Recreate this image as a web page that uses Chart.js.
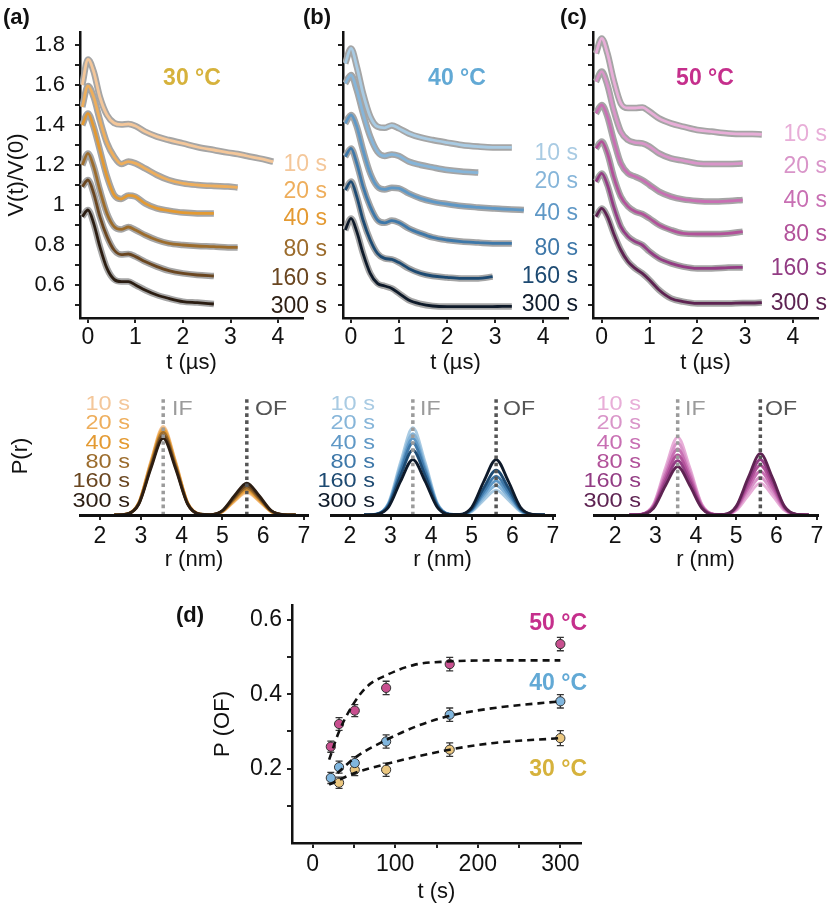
<!DOCTYPE html>
<html>
<head>
<meta charset="utf-8">
<script src="https://cdn.jsdelivr.net/npm/chart.js@4.4.1/dist/chart.umd.min.js"></script>
<style>
  body { margin: 0; background: #fff; }
  #fig { position: relative; width: 832px; height: 904px; overflow: hidden; font-family: "Liberation Sans", Arial, sans-serif; }
  #fig canvas { position: absolute; }
  .txt { position: absolute; white-space: nowrap; line-height: 1; }
</style>
</head>
<body>
<div id="fig"></div>
<script>
// ---- top row: V(t)/V(0) traces, values on a shared time grid (µs) ----
const tGrid = [-0.12, 0, 0.12, 0.25, 0.4, 0.55, 0.7, 0.85, 1.0, 1.2, 1.45, 1.7, 2.0, 2.3, 2.65, 2.95, 3.15, 3.35, 3.6, 3.9];
const tTicks = [0, 1, 2, 3, 4];
const vTicks = [0.5, 0.6, 0.7, 0.8, 0.9, 1, 1.1, 1.2, 1.3, 1.4, 1.5, 1.6, 1.7, 1.8];
const vLabels = [0.6, 0.8, 1, 1.2, 1.4, 1.6, 1.8];
const timeLabels = ['10 s', '20 s', '40 s', '80 s', '160 s', '300 s'];

// 30 °C
const a10 = [1.60, 1.728, 1.667, 1.54, 1.45, 1.41, 1.402, 1.405, 1.395, 1.367, 1.342, 1.325, 1.308, 1.29, 1.275, 1.262, 1.255, 1.245, 1.233, 1.217];
const a20 = [1.49, 1.595, 1.54, 1.425, 1.31, 1.242, 1.205, 1.217, 1.208, 1.183, 1.15, 1.125, 1.108, 1.10, 1.095, 1.092, 1.088];
const a40 = [1.40, 1.458, 1.39, 1.275, 1.142, 1.05, 1.03, 1.048, 1.042, 1.008, 0.983, 0.972, 0.962, 0.958, 0.958];
const a80 = [1.20, 1.258, 1.192, 1.075, 0.958, 0.892, 0.878, 0.89, 0.875, 0.85, 0.825, 0.808, 0.80, 0.795, 0.792, 0.788, 0.788];
const a160 = [1.092, 1.125, 1.058, 0.942, 0.842, 0.775, 0.752, 0.755, 0.742, 0.717, 0.692, 0.672, 0.658, 0.65, 0.645];
const a300 = [0.942, 0.975, 0.908, 0.792, 0.683, 0.628, 0.617, 0.617, 0.60, 0.575, 0.55, 0.533, 0.517, 0.512, 0.505];
// 40 °C
const b10 = [1.708, 1.783, 1.692, 1.558, 1.442, 1.392, 1.386, 1.398, 1.383, 1.358, 1.338, 1.325, 1.312, 1.30, 1.292, 1.288, 1.288, 1.288];
const b20 = [1.608, 1.65, 1.575, 1.458, 1.342, 1.267, 1.245, 1.253, 1.245, 1.217, 1.20, 1.188, 1.175, 1.167, 1.162];
const b40 = [1.408, 1.45, 1.392, 1.275, 1.158, 1.092, 1.078, 1.086, 1.083, 1.058, 1.033, 1.017, 1.005, 0.995, 0.988, 0.983, 0.98, 0.978, 0.975];
const b80 = [1.242, 1.283, 1.208, 1.092, 0.992, 0.925, 0.911, 0.922, 0.912, 0.883, 0.858, 0.838, 0.825, 0.817, 0.812, 0.808, 0.808, 0.808];
const b160 = [1.075, 1.117, 1.042, 0.925, 0.825, 0.758, 0.733, 0.728, 0.712, 0.683, 0.658, 0.645, 0.638, 0.633, 0.633, 0.642];
const b300 = [0.875, 0.933, 0.867, 0.758, 0.658, 0.608, 0.595, 0.583, 0.558, 0.525, 0.505, 0.495, 0.492, 0.492, 0.492, 0.492, 0.493, 0.493];
// 50 °C
const c10 = [1.758, 1.833, 1.758, 1.625, 1.508, 1.485, 1.485, 1.488, 1.467, 1.433, 1.408, 1.392, 1.375, 1.367, 1.358, 1.355, 1.355, 1.353];
const c20 = [1.617, 1.667, 1.60, 1.475, 1.367, 1.325, 1.312, 1.308, 1.292, 1.258, 1.233, 1.222, 1.208, 1.205, 1.205, 1.208];
const c40 = [1.458, 1.50, 1.442, 1.325, 1.208, 1.158, 1.142, 1.125, 1.10, 1.067, 1.042, 1.028, 1.02, 1.017, 1.02, 1.025];
const c80 = [1.283, 1.317, 1.258, 1.142, 1.042, 0.992, 0.967, 0.955, 0.933, 0.90, 0.875, 0.858, 0.855, 0.855, 0.858, 0.867];
const c160 = [1.117, 1.158, 1.10, 0.992, 0.892, 0.842, 0.817, 0.80, 0.767, 0.733, 0.708, 0.692, 0.683, 0.683, 0.687, 0.688];
const c300 = [0.942, 0.983, 0.942, 0.858, 0.775, 0.717, 0.683, 0.658, 0.625, 0.575, 0.533, 0.517, 0.508, 0.508, 0.508, 0.51, 0.51, 0.512];

// ---- middle row: P(r) distance distributions on an r grid (nm) ----
const rGrid = [2.35, 2.65, 2.95, 3.25, 3.55, 3.85, 4.15, 4.45, 4.7, 5.0, 5.3, 5.6, 5.9, 6.2, 6.5, 6.8];
const rTicks = [2, 3, 4, 5, 6, 7];
const rIF = 3.55;
const rOF = 5.6;

const pa10 = [0, 0.008, 0.105, 0.46, 0.75, 0.46, 0.105, 0.008, 0.002, 0.027, 0.116, 0.19, 0.116, 0.027, 0.002, 0];
const pa20 = [0, 0.007, 0.103, 0.45, 0.735, 0.45, 0.103, 0.007, 0.002, 0.028, 0.122, 0.20, 0.122, 0.028, 0.002, 0];
const pa40 = [0, 0.007, 0.10, 0.44, 0.72, 0.44, 0.10, 0.007, 0.002, 0.03, 0.131, 0.215, 0.131, 0.03, 0.002, 0];
const pa80 = [0, 0.007, 0.098, 0.427, 0.70, 0.427, 0.098, 0.007, 0.002, 0.032, 0.14, 0.23, 0.14, 0.032, 0.002, 0];
const pa160 = [0, 0.007, 0.095, 0.41, 0.675, 0.41, 0.095, 0.007, 0.003, 0.035, 0.153, 0.25, 0.153, 0.035, 0.003, 0];
const pa300 = [0, 0.007, 0.091, 0.397, 0.65, 0.397, 0.091, 0.007, 0.003, 0.038, 0.165, 0.27, 0.165, 0.038, 0.003, 0];

const pb10 = [0, 0.007, 0.104, 0.451, 0.74, 0.451, 0.104, 0.007, 0.002, 0.029, 0.128, 0.21, 0.128, 0.029, 0.002, 0];
const pb20 = [0, 0.007, 0.097, 0.421, 0.69, 0.421, 0.097, 0.007, 0.003, 0.035, 0.153, 0.25, 0.153, 0.035, 0.003, 0];
const pb40 = [0, 0.007, 0.091, 0.397, 0.65, 0.397, 0.091, 0.007, 0.003, 0.041, 0.177, 0.29, 0.177, 0.041, 0.003, 0];
const pb80 = [0, 0.006, 0.085, 0.372, 0.61, 0.372, 0.085, 0.006, 0.003, 0.046, 0.201, 0.33, 0.201, 0.046, 0.003, 0];
const pb160 = [0, 0.006, 0.077, 0.336, 0.55, 0.336, 0.077, 0.006, 0.004, 0.053, 0.232, 0.38, 0.232, 0.053, 0.004, 0];
const pb300 = [0, 0.005, 0.066, 0.287, 0.47, 0.287, 0.066, 0.005, 0.005, 0.066, 0.287, 0.47, 0.287, 0.066, 0.005, 0];

const pc10 = [0, 0.007, 0.092, 0.403, 0.66, 0.403, 0.092, 0.007, 0.003, 0.038, 0.165, 0.27, 0.165, 0.038, 0.003, 0];
const pc20 = [0, 0.006, 0.085, 0.372, 0.61, 0.372, 0.085, 0.006, 0.003, 0.045, 0.195, 0.32, 0.195, 0.045, 0.003, 0];
const pc40 = [0, 0.006, 0.078, 0.342, 0.56, 0.342, 0.078, 0.006, 0.004, 0.052, 0.226, 0.37, 0.226, 0.052, 0.004, 0];
const pc80 = [0, 0.005, 0.071, 0.311, 0.51, 0.311, 0.071, 0.005, 0.004, 0.059, 0.256, 0.42, 0.256, 0.059, 0.004, 0];
const pc160 = [0, 0.005, 0.064, 0.281, 0.46, 0.281, 0.064, 0.005, 0.005, 0.066, 0.287, 0.47, 0.287, 0.066, 0.005, 0];
const pc300 = [0, 0.004, 0.057, 0.25, 0.41, 0.25, 0.057, 0.004, 0.005, 0.073, 0.317, 0.52, 0.317, 0.073, 0.005, 0];

// ---- panel (d): P(OF) vs incubation time ----
const t50 = [22, 32, 51, 89, 166, 300];
const p50 = [0.259, 0.32, 0.356, 0.417, 0.481, 0.535];
const e50 = [0.015, 0.017, 0.016, 0.018, 0.018, 0.018];
const t40 = [22, 32, 51, 89, 166, 300];
const p40 = [0.175, 0.204, 0.215, 0.273, 0.345, 0.381];
const e40 = [0.015, 0.016, 0.017, 0.018, 0.018, 0.018];
const t30 = [32, 51, 89, 166, 300];
const p30 = [0.162, 0.197, 0.197, 0.251, 0.282];
const e30 = [0.015, 0.016, 0.018, 0.018, 0.02];
const fit50T = [20, 32, 50, 66, 90, 123, 163, 220, 300];
const fit50 = [0.224, 0.30, 0.376, 0.421, 0.452, 0.479, 0.488, 0.491, 0.491];
const fit40T = [30, 51, 90, 126, 166, 220, 300];
const fit40 = [0.188, 0.229, 0.278, 0.314, 0.342, 0.363, 0.381];
const fit30T = [20, 51, 90, 166, 220, 300];
const fit30 = [0.157, 0.188, 0.213, 0.251, 0.269, 0.282];
const dXTicks = [0, 50, 100, 150, 200, 250, 300];
const dYTicks = [0.1, 0.2, 0.3, 0.4, 0.5, 0.6];

const colorsA = ['#f4c79a', '#eeae5c', '#e49a32', '#9c6c2c', '#6a4620', '#2b1d12'];
const colorsB = ['#a9cbe3', '#86b5d9', '#5f98c6', '#3e78a9', '#1d4a72', '#0e1a2a'];
const colorsC = ['#e8aed8', '#d995c9', '#c86fb3', '#b2529a', '#933c84', '#5e2352'];

const fig = document.getElementById('fig');
const INK = '#111';

function addCanvas(x, y, w, h) {
  const c = document.createElement('canvas');
  c.width = w; c.height = h;
  c.style.left = x + 'px'; c.style.top = y + 'px';
  c.style.width = w + 'px'; c.style.height = h + 'px';
  fig.appendChild(c);
  return c;
}

function addText(str, x, y, size, color, align, bold, stretch) {
  const d = document.createElement('div');
  d.className = 'txt';
  d.textContent = str;
  d.style.left = x + 'px';
  d.style.top = y + 'px';
  d.style.fontSize = size + 'px';
  d.style.color = color;
  if (bold) d.style.fontWeight = 'bold';
  const tx = align === 'right' ? '-100%' : align === 'center' ? '-50%' : '0';
  d.style.transformOrigin = align === 'right' ? '100% 50%' : align === 'center' ? '50% 50%' : '0 50%';
  d.style.transform = `translate(${tx}, -50%)` + (stretch ? ` scaleX(${stretch})` : '');
  fig.appendChild(d);
}

Chart.defaults.font.family = '"Liberation Sans", Arial, sans-serif';
Chart.defaults.color = INK;

const tickGrid = { drawOnChartArea: false, tickLength: 5, color: '#222', lineWidth: 2 };

function tracePanel(canvasX, yAxisW, areaW, xMin, xMax, traces, colors, withLabels) {
  const cv = addCanvas(canvasX, 0, yAxisW + areaW + 8, 378);
  const datasets = [];
  traces.forEach((vals, i) => {
    const pts = vals.map((v, k) => ({ x: tGrid[k], y: v }));
    // grey = raw data, coloured = fit on top
    datasets.push({ data: pts, borderColor: '#a5a5a5', borderWidth: 6.5, order: 2 });
    datasets.push({ data: pts, borderColor: colors[i], borderWidth: 2.8, order: 1 });
  });
  new Chart(cv, {
    type: 'line',
    data: { datasets },
    options: {
      responsive: false,
      animation: false,
      layout: { padding: { top: 32, right: 8, left: 0, bottom: 0 } },
      elements: { point: { radius: 0 }, line: { cubicInterpolationMode: 'monotone' } },
      plugins: { legend: { display: false }, tooltip: { enabled: false } },
      scales: {
        x: {
          type: 'linear', min: xMin, max: xMax,
          afterFit: s => { s.height = 60; s.paddingLeft = 0; s.paddingRight = 0; },
          afterBuildTicks: s => { s.ticks = tTicks.map(v => ({ value: v })); },
          ticks: { autoSkip: false, maxRotation: 0, font: { size: 23 }, color: INK, padding: 1 },
          grid: tickGrid,
          border: { color: INK, width: 2.5 },
          title: { display: true, text: 't (µs)', font: { size: 22 }, color: INK, padding: { top: 0, bottom: 2 } }
        },
        y: {
          min: 0.435, max: 1.865,
          afterFit: s => { s.width = yAxisW; s.paddingTop = 0; s.paddingBottom = 0; },
          afterBuildTicks: s => { s.ticks = vTicks.map(v => ({ value: v })); },
          ticks: {
            autoSkip: false, font: { size: 22 }, color: INK, padding: 10,
            callback: v => (withLabels && vLabels.includes(v)) ? String(v) : ''
          },
          grid: tickGrid,
          border: { color: INK, width: 2.5 },
          title: { display: withLabels, text: 'V(t)/V(0)', font: { size: 22 }, color: INK, padding: { top: 4 } }
        }
      }
    }
  });
}

function distPanel(canvasX, yAxisW, areaW, xMin, xMax, curves, colors, withTitle) {
  const cv = addCanvas(canvasX, 387, yAxisW + areaW + 12, 188);
  const datasets = [
    { data: [{ x: rIF, y: 0 }, { x: rIF, y: 1 }], borderColor: '#9b9b9b', borderWidth: 3.5, borderDash: [3.5, 3.5], order: 0 },
    { data: [{ x: rOF, y: 0 }, { x: rOF, y: 1 }], borderColor: '#555', borderWidth: 3.5, borderDash: [3.5, 3.5], order: 0 }
  ];
  curves.forEach((vals, i) => {
    datasets.push({
      data: vals.map((v, k) => ({ x: rGrid[k], y: v })),
      borderColor: colors[i], borderWidth: 2.8, order: 10 - i
    });
  });
  new Chart(cv, {
    type: 'line',
    data: { datasets },
    options: {
      responsive: false,
      animation: false,
      layout: { padding: { top: 10, right: 12, left: 0, bottom: 0 } },
      elements: { point: { radius: 0 }, line: { cubicInterpolationMode: 'monotone' } },
      plugins: { legend: { display: false }, tooltip: { enabled: false } },
      scales: {
        x: {
          type: 'linear', min: xMin, max: xMax,
          afterFit: s => { s.height = 60; s.paddingLeft = 0; s.paddingRight = 0; },
          afterBuildTicks: s => { s.ticks = rTicks.map(v => ({ value: v })); },
          ticks: { autoSkip: false, maxRotation: 0, font: { size: 23 }, color: INK, padding: 3 },
          grid: tickGrid,
          border: { color: INK, width: 3, z: 1 },
          title: { display: true, text: 'r (nm)', font: { size: 22 }, color: INK, padding: { top: 0, bottom: 2 } }
        },
        y: {
          display: withTitle,
          min: 0, max: 1,
          afterFit: s => { s.width = yAxisW; s.paddingTop = 0; s.paddingBottom = 0; },
          ticks: { display: false },
          grid: { display: false },
          border: { display: false },
          title: { display: true, text: 'P(r)', font: { size: 22 }, color: INK, padding: { top: 8 } }
        }
      }
    }
  });
}

tracePanel(0, 80, 223, -0.168, 4.526, [a10, a20, a40, a80, a160, a300], colorsA, true);
tracePanel(333, 10, 225, -0.167, 4.52, [b10, b20, b40, b80, b160, b300], colorsB, false);
tracePanel(583, 10, 225, -0.182, 4.525, [c10, c20, c40, c80, c160, c300], colorsC, false);

distPanel(0, 80, 228, 1.51, 7.1, [pa10, pa20, pa40, pa80, pa160, pa300], colorsA, true);
distPanel(330, 0, 225, 1.51, 7.05, [pb10, pb20, pb40, pb80, pb160, pb300], colorsB, false);
distPanel(593, 0, 225, 1.45, 7.03, [pc10, pc20, pc40, pc80, pc160, pc300], colorsC, false);

// error bars for panel (d), drawn from the scales before the markers
const errorBars = {
  id: 'errorBars',
  beforeDatasetsDraw(chart) {
    const { ctx, scales: { x, y } } = chart;
    ctx.save();
    ctx.strokeStyle = '#333';
    ctx.lineWidth = 1.3;
    chart.data.datasets.forEach(ds => {
      if (!ds.errors) return;
      ds.data.forEach((p, i) => {
        const px = x.getPixelForValue(p.x);
        const lo = y.getPixelForValue(p.y - ds.errors[i]);
        const hi = y.getPixelForValue(p.y + ds.errors[i]);
        ctx.beginPath();
        ctx.moveTo(px, lo); ctx.lineTo(px, hi);
        ctx.moveTo(px - 3.5, lo); ctx.lineTo(px + 3.5, lo);
        ctx.moveTo(px - 3.5, hi); ctx.lineTo(px + 3.5, hi);
        ctx.stroke();
      });
    });
    ctx.restore();
  }
};

function pts(xs, ys) { return xs.map((x, i) => ({ x, y: ys[i] })); }

const fitStyle = { type: 'line', showLine: true, borderColor: '#111', borderWidth: 2.6, borderDash: [7, 5], pointRadius: 0, cubicInterpolationMode: 'monotone', order: 0 };
const dotStyle = { pointRadius: 4.6, borderColor: '#333', borderWidth: 1, order: 1 };

new Chart(addCanvas(200, 590, 401, 315), {
  type: 'scatter',
  data: {
    datasets: [
      Object.assign({ data: pts(fit50T, fit50) }, fitStyle),
      Object.assign({ data: pts(fit40T, fit40) }, fitStyle),
      Object.assign({ data: pts(fit30T, fit30) }, fitStyle),
      Object.assign({ data: pts(t50, p50), errors: e50, backgroundColor: '#c84f8f' }, dotStyle),
      Object.assign({ data: pts(t40, p40), errors: e40, backgroundColor: '#80b6de' }, dotStyle),
      Object.assign({ data: pts(t30, p30), errors: e30, backgroundColor: '#ebc77f' }, dotStyle)
    ]
  },
  options: {
    responsive: false,
    animation: false,
    layout: { padding: { top: 15, right: 20, left: 0, bottom: 0 } },
    plugins: { legend: { display: false }, tooltip: { enabled: false } },
    scales: {
      x: {
        type: 'linear', min: -25, max: 325,
        afterFit: s => { s.height = 62; s.paddingLeft = 0; s.paddingRight = 0; },
        afterBuildTicks: s => { s.ticks = dXTicks.map(v => ({ value: v })); },
        ticks: { autoSkip: false, maxRotation: 0, font: { size: 23 }, color: INK, padding: 3,
                 callback: v => (v % 100 === 0) ? String(v) : '' },
        grid: tickGrid,
        border: { color: INK, width: 2.5 },
        title: { display: true, text: 't (s)', font: { size: 22 }, color: INK, padding: { top: 0, bottom: 0 } }
      },
      y: {
        min: 0, max: 0.64,
        afterFit: s => { s.width = 92; s.paddingTop = 0; s.paddingBottom = 0; },
        afterBuildTicks: s => { s.ticks = dYTicks.map(v => ({ value: v })); },
        ticks: { autoSkip: false, font: { size: 23 }, color: INK, padding: 5,
                 callback: v => [0.2, 0.4, 0.6].includes(v) ? String(v) : '' },
        grid: tickGrid,
        border: { color: INK, width: 2.5 },
        title: { display: true, text: 'P (OF)', font: { size: 22 }, color: INK, padding: { top: 10 } }
      }
    }
  },
  plugins: [errorBars]
});

// ---- text annotations ----
addText('(a)', 3, 17, 22, INK, 'left', true);
addText('(b)', 303, 17, 22, INK, 'left', true);
addText('(c)', 560, 17, 22, INK, 'left', true);
addText('(d)', 176, 615, 22, INK, 'left', true);

addText('30 °C', 192, 77, 23, '#d6b23c', 'center', true);
addText('40 °C', 457, 77, 23, '#62a9d5', 'center', true);
addText('50 °C', 705, 77, 23, '#c52f8c', 'center', true);

const yLabA = [163, 190, 217, 248, 277, 305];
const yLabB = [152, 180, 212, 247, 275, 303];
const yLabC = [133, 165, 199, 233, 267, 302];
timeLabels.forEach((s, i) => {
  addText(s, 327, yLabA[i], 23, colorsA[i], 'right');
  addText(s, 578, yLabB[i], 23, colorsB[i], 'right');
  addText(s, 827, yLabC[i], 23, colorsC[i], 'right');
  addText(s, 130, 402 + i * 19.3, 21, colorsA[i], 'right', false, 1.12);
  addText(s, 375, 402 + i * 19.3, 21, colorsB[i], 'right', false, 1.12);
  addText(s, 641, 402 + i * 19.3, 21, colorsC[i], 'right', false, 1.12);
});

[[172, 255], [420, 503], [685, 765]].forEach(([xi, xo]) => {
  addText('IF', xi, 407, 21, '#9b9b9b', 'left', false, 1.1);
  addText('OF', xo, 407, 21, '#555', 'left', false, 1.1);
});

addText('50 °C', 587, 622, 23, '#c52f8c', 'right', true);
addText('40 °C', 587, 682, 23, '#62a9d5', 'right', true);
addText('30 °C', 587, 768, 23, '#d6b23c', 'right', true);
</script>
</body>
</html>
